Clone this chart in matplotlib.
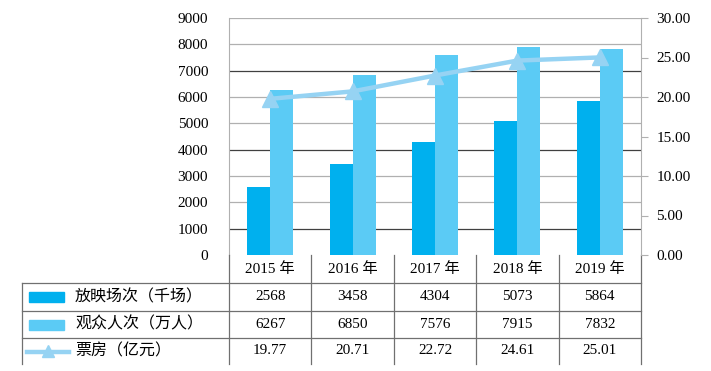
import matplotlib
matplotlib.use("Agg")
import matplotlib.pyplot as plt
import matplotlib.transforms as mtransforms
from matplotlib.lines import Line2D
from matplotlib.patches import Rectangle
import numpy as np

FAM = ['Liberation Serif', 'Noto Sans CJK SC', 'DejaVu Sans']
plt.rcParams['font.family'] = FAM

years = ['2015 年', '2016 年', '2017 年', '2018 年', '2019 年']
screenings = [2568, 3458, 4304, 5073, 5864]        # 放映场次（千场）
audience = [6267, 6850, 7576, 7915, 7832]          # 观众人次（万人）
box_office = [19.77, 20.71, 22.72, 24.61, 25.01]   # 票房（亿元）
series_names = ['放映场次（千场）', '观众人次（万人）', '票房（亿元）']
left_ticks = [0, 1000, 2000, 3000, 4000, 5000, 6000, 7000, 8000, 9000]
right_ticks = [0, 5, 10, 15, 20, 25, 30]

c_dark = '#00B0EE'
c_light = '#5BCBF5'
c_line = '#96D3F3'
c_grid = '#B0B0B0'
c_border = '#707070'

W, H = 711, 371
fig = plt.figure(figsize=(W / 100, H / 100), dpi=100)
px = lambda x: x / W
py = lambda y: 1 - y / H

L, R, T, B = 229, 641, 18, 255
ax = fig.add_axes([px(L), py(B), px(R) - px(L), py(T) - py(B)])
x = np.arange(len(years))
bw = 0.28
ax.bar(x - bw / 2, screenings, width=bw, color=c_dark, zorder=3)
ax.bar(x + bw / 2, audience, width=bw, color=c_light, zorder=3)
ax.set_xlim(-0.5, len(years) - 0.5)
ax.set_ylim(0, 9000)
ax.set_yticks(left_ticks)
ax.set_yticklabels([str(t) for t in left_ticks], fontsize=11, family=FAM)
ax.tick_params(axis='y', length=0, pad=15)
ax.set_xticks([])
for t in left_ticks[1:]:
    col = '#404040' if t in (1000, 4000, 7000) else c_grid
    ax.axhline(t, color=col, lw=0.9, zorder=1)
for s in ['top', 'right', 'bottom']:
    ax.spines[s].set_visible(False)
ax.spines['left'].set_color(c_grid)

ax2 = ax.twinx()
ax2.plot(x, box_office, color=c_line, lw=3.2, marker='^', ms=11,
         markerfacecolor=c_line, markeredgecolor=c_line, zorder=5)
ax2.set_ylim(0, 30)
ax2.set_yticks(right_ticks)
ax2.set_yticklabels([f'{t:.2f}' for t in right_ticks], fontsize=11, family=FAM)
ax2.tick_params(axis='y', length=5, color=c_grid, pad=6)
for s in ['top', 'left', 'bottom']:
    ax2.spines[s].set_visible(False)
ax2.spines['right'].set_color(c_grid)
ax.set_zorder(1)
ax2.set_zorder(2)
ax2.patch.set_visible(False)

# ---- data table ----
rows_y = [255, 283, 311, 338, 364]
tab_left = 22
lw = 0.9
for yy in rows_y[1:4]:
    fig.add_artist(Line2D([px(tab_left), px(R)], [py(yy), py(yy)], color=c_border, lw=lw))
fig.add_artist(Line2D([px(tab_left), px(tab_left)], [py(rows_y[1]), py(rows_y[4])], color=c_border, lw=lw))
cat_w = (R - L) / len(years)
for i in range(len(years) + 1):
    xx = L + i * cat_w
    fig.add_artist(Line2D([px(xx), px(xx)], [py(rows_y[0]), py(rows_y[4])], color=c_border, lw=lw))

trans = mtransforms.blended_transform_factory(ax.transData, fig.transFigure)
for i, yr in enumerate(years):
    fig.text(i, py((rows_y[0] + rows_y[1]) / 2), yr, transform=trans,
             ha='center', va='center', fontsize=11)
row_values = [[str(v) for v in screenings], [str(v) for v in audience],
              [f'{v:.2f}' for v in box_office]]
for r, vals in enumerate(row_values):
    yc = py((rows_y[r + 1] + rows_y[r + 2]) / 2)
    for i, v in enumerate(vals):
        fig.text(i, yc, v, transform=trans, ha='center', va='center', fontsize=11)
    fig.text(px(75), yc, series_names[r], ha='left', va='center', fontsize=11.5)

# legend keys
for r, c in enumerate([c_dark, c_light]):
    yc = (rows_y[r + 1] + rows_y[r + 2]) / 2
    fig.add_artist(Rectangle((px(29), py(yc + 5)), px(64) - px(29), py(yc - 5) - py(yc + 5),
                             color=c, transform=fig.transFigure))
yc = (rows_y[3] + rows_y[4]) / 2
fig.add_artist(Line2D([px(27), px(69)], [py(yc + 1), py(yc + 1)], color=c_line, lw=3.2))
fig.add_artist(Line2D([px(48)], [py(yc)], color=c_line, marker='^', ms=9, lw=0))

fig.savefig('out.png', dpi=100)
